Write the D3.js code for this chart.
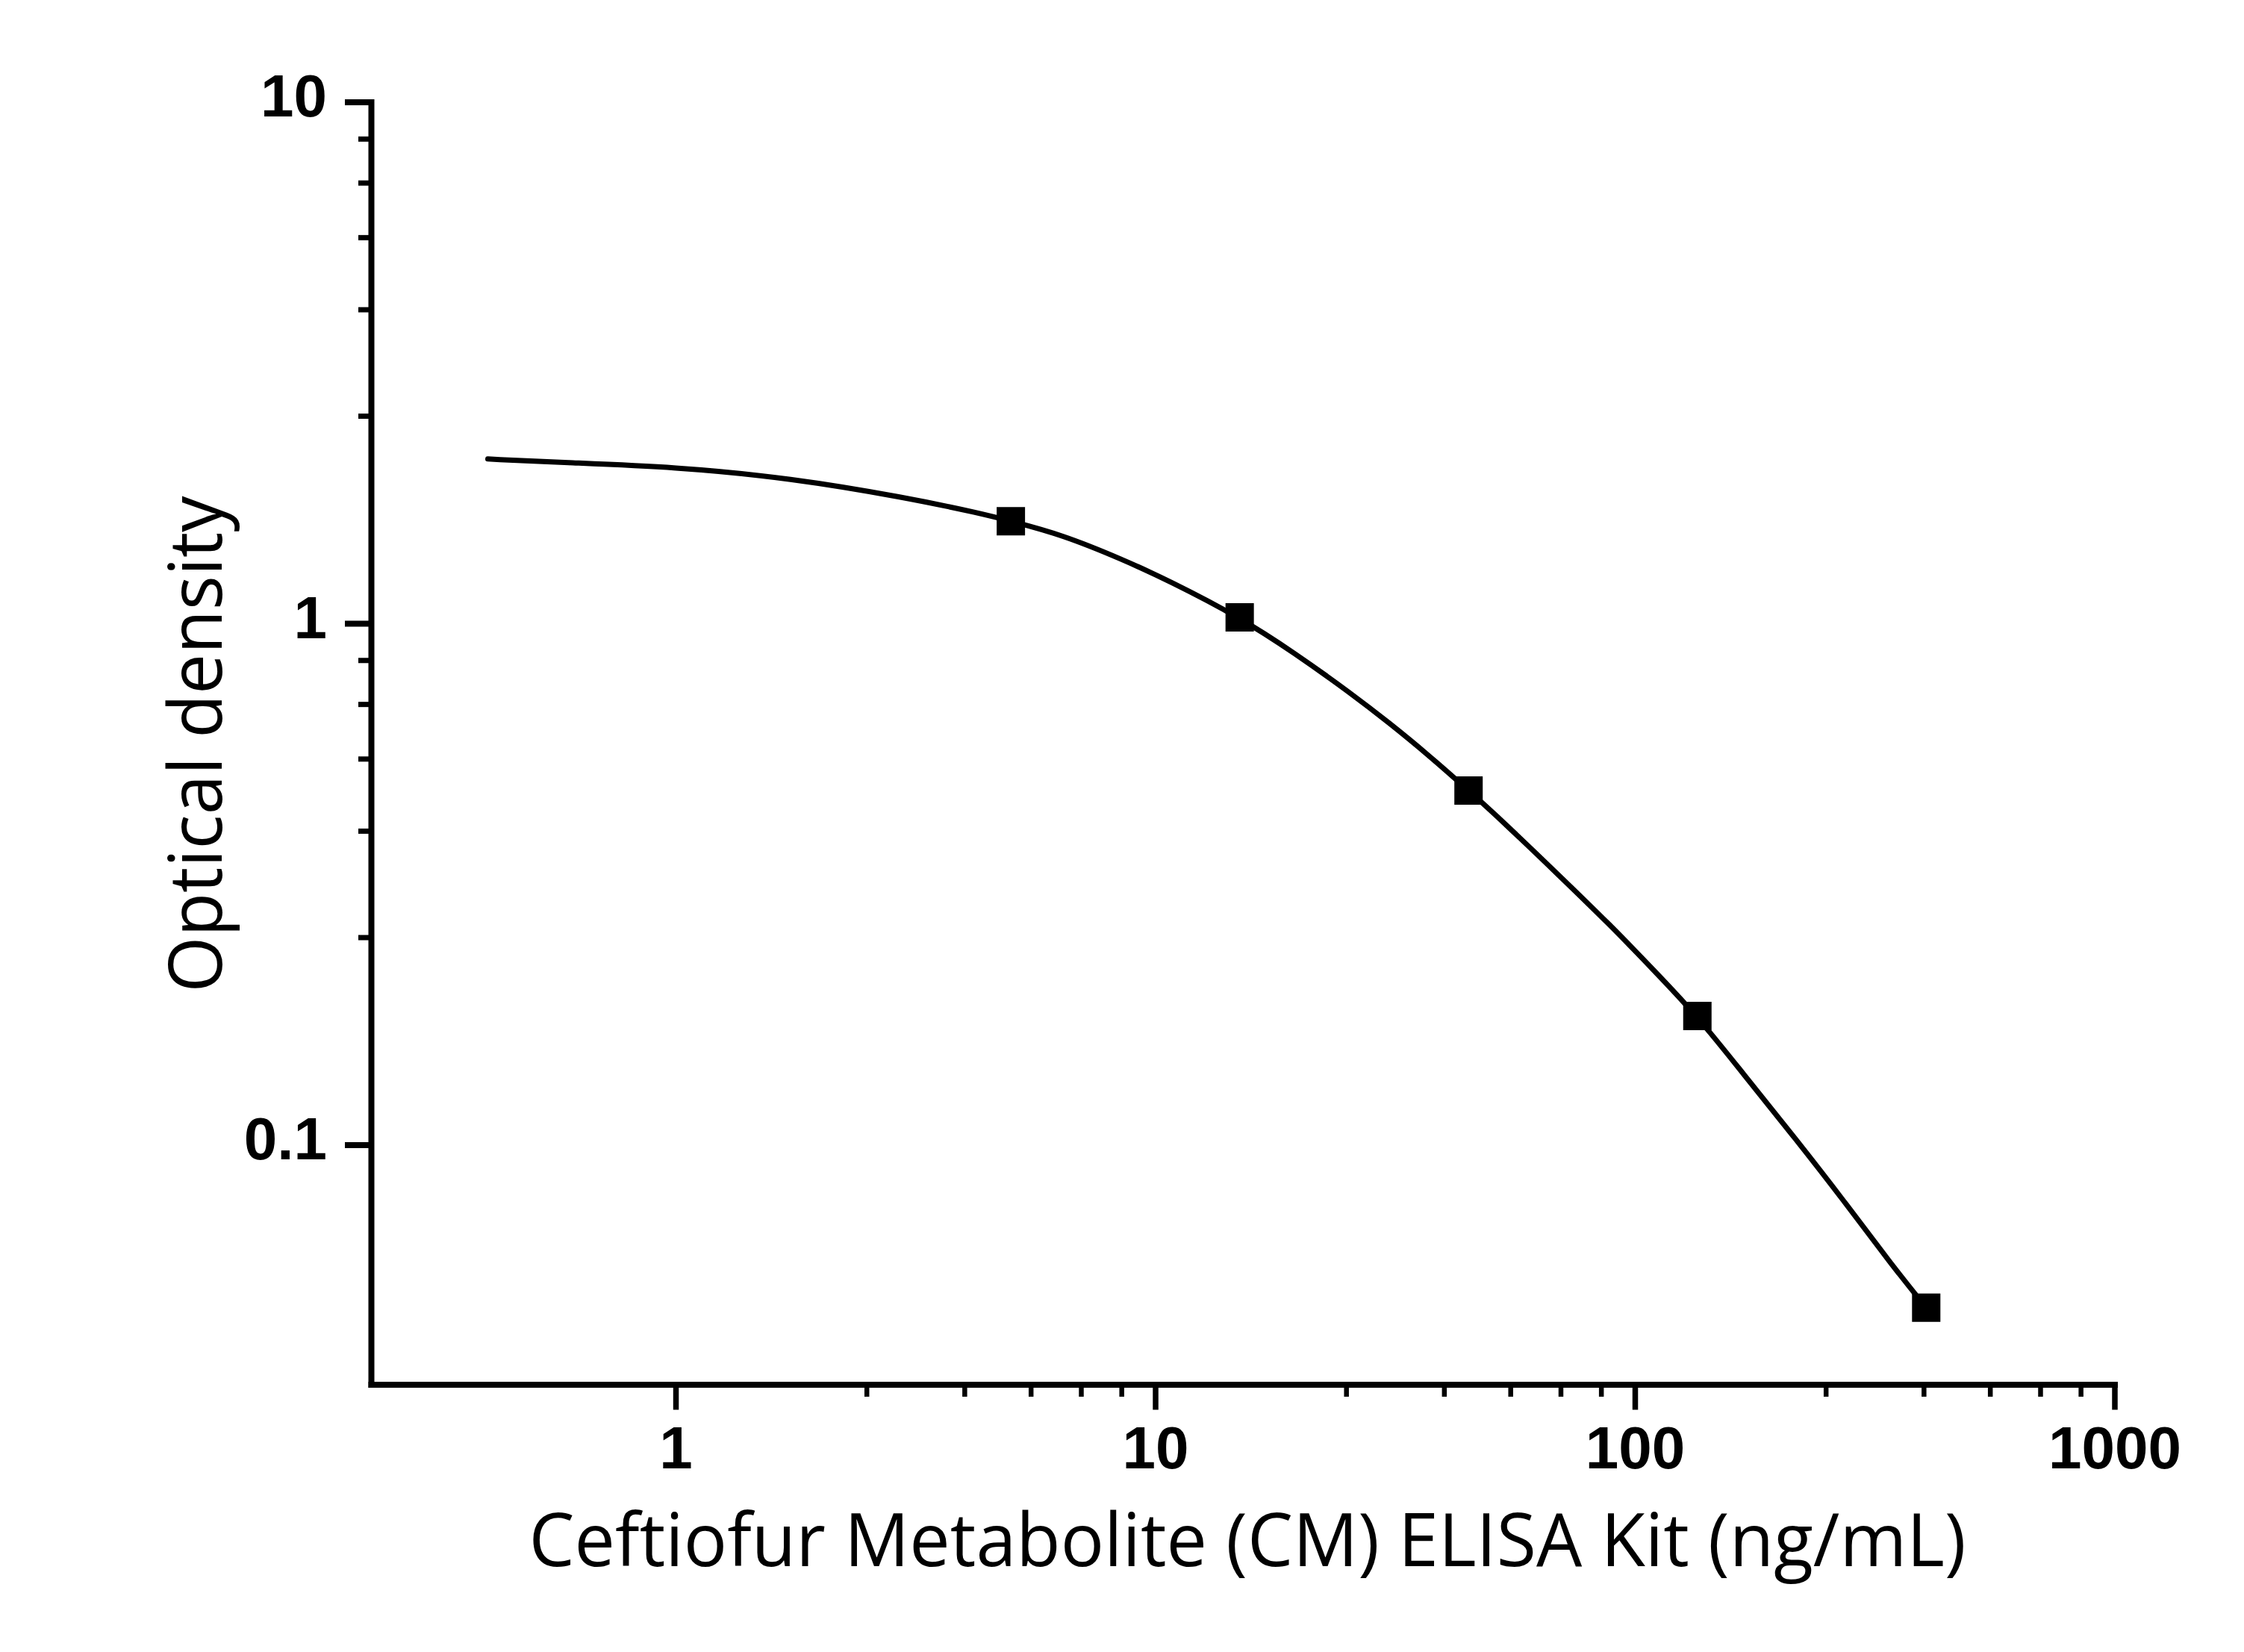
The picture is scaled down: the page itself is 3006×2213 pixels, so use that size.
<!DOCTYPE html>
<html>
<head>
<meta charset="utf-8">
<script src="https://cdn.jsdelivr.net/npm/d3@7"></script>
<style>
  html, body { margin: 0; padding: 0; background: #ffffff; }
  svg { display: block; }
</style>
</head>
<body>
<svg id="chart" width="3006" height="2213"></svg>
<script>
// ---- data ----
const concentrations = [5, 15, 45, 135, 405];              // ng/mL
const opticalDensity = [1.570, 1.027, 0.478, 0.1765, 0.0487];

// fitted standard curve
const fitX = [0.406, 0.580, 1.0, 1.737, 3.005, 4.331, 5.0, 6.387, 8.556, 10.66, 15,
              19.49, 25.62, 30.76, 36.93, 45, 53.1, 69.7, 88.6, 109.1, 135,
              168.0, 213.6, 271.6, 345.2, 405];
const fitY = [2.066, 2.034, 1.995, 1.899, 1.744, 1.6245, 1.570, 1.479, 1.3255, 1.208, 1.027,
              0.878, 0.7336, 0.644, 0.5613, 0.478, 0.4165, 0.3276, 0.2645, 0.2169, 0.1765,
              0.1370, 0.1042, 0.0785, 0.0584, 0.0487];

const xMajorTicks = [1, 10, 100, 1000];
const xTickLabels = ["1", "10", "100", "1000"];
const yMajorTicks = [0.1, 1, 10];
const yTickLabels = ["0.1", "1", "10"];
const minorSteps = [2.5, 4, 5.5, 7, 8.5];   // minor ticks inside each decade

const xDomain = [0.2317, 1000];
const yDomain = [0.0347, 10];

const xTitle = "Ceftiofur Metabolite (CM) ELISA Kit (ng/mL)";
const yTitle = "Optical density";

// ---- layout ----
const svg = d3.select("#chart");
svg.append("rect").attr("width", 3006).attr("height", 2213).attr("fill", "#ffffff");

const x = d3.scaleLog().domain(xDomain).range([497, 2832.5]);
const y = d3.scaleLog().domain(yDomain).range([1854.5, 136.5]);

const xOrigin = 1854.5;  // y pixel of x axis
const yOrigin = 497;     // x pixel of y axis

function minorsFor(majors) {
  const out = [];
  for (let i = 0; i < majors.length - 1; i++) {
    minorSteps.forEach(s => out.push(majors[i] * s));
  }
  return out;
}
const xMinor = minorsFor(xMajorTicks);
const yMinor = minorsFor(yMajorTicks);

const tickFont = "'Liberation Sans', Arial, Helvetica, sans-serif";
const titleFont = "'Segoe UI', 'Open Sans', 'Noto Sans', sans-serif";

// minor ticks
svg.append("g")
  .attr("transform", `translate(0,${xOrigin})`)
  .call(d3.axisBottom(x).tickValues(xMinor).tickSize(16.5).tickFormat(""))
  .call(g => g.select(".domain").remove())
  .call(g => g.selectAll("line").attr("stroke", "#000").attr("stroke-width", 6.5));

svg.append("g")
  .attr("transform", `translate(${yOrigin},0)`)
  .call(d3.axisLeft(y).tickValues(yMinor).tickSize(17).tickFormat(""))
  .call(g => g.select(".domain").remove())
  .call(g => g.selectAll("line").attr("stroke", "#000").attr("stroke-width", 7));

// major x axis
const gx = svg.append("g")
  .attr("transform", `translate(0,${xOrigin})`)
  .call(d3.axisBottom(x).tickValues(xMajorTicks).tickSize(34).tickSizeOuter(0).tickPadding(22)
        .tickFormat((d, i) => xTickLabels[i]));
gx.attr("font-family", tickFont).attr("font-size", 80).attr("font-weight", "bold");
gx.select(".domain").attr("stroke", "#000").attr("stroke-width", 8).attr("stroke-linecap", "square");
gx.selectAll(".tick line").attr("stroke", "#000").attr("stroke-width", 7.5);
gx.selectAll(".tick text").attr("fill", "#000");

// major y axis
const gy = svg.append("g")
  .attr("transform", `translate(${yOrigin},0)`)
  .call(d3.axisLeft(y).tickValues(yMajorTicks).tickSize(35).tickSizeOuter(0).tickPadding(24)
        .tickFormat((d, i) => yTickLabels[i]));
gy.attr("font-family", tickFont).attr("font-size", 80).attr("font-weight", "bold");
gy.select(".domain").attr("stroke", "#000").attr("stroke-width", 8).attr("stroke-linecap", "square");
gy.selectAll(".tick line").attr("stroke", "#000").attr("stroke-width", 8);
gy.selectAll(".tick text").attr("fill", "#000").attr("dy", "0.24em");

// fitted curve
const curveData = fitX.map((v, i) => [v, fitY[i]]);
svg.append("path")
  .datum(curveData)
  .attr("fill", "none")
  .attr("stroke", "#000")
  .attr("stroke-width", 7)
  .attr("stroke-linecap", "round")
  .attr("stroke-linejoin", "round")
  .attr("d", d3.line().x(d => x(d[0])).y(d => y(d[1])).curve(d3.curveBasis));

// data markers
const pts = concentrations.map((v, i) => [v, opticalDensity[i]]);
svg.append("g").selectAll("path")
  .data(pts)
  .join("path")
  .attr("transform", d => `translate(${x(d[0])},${y(d[1])})`)
  .attr("d", d3.symbol(d3.symbolSquare, 38 * 38))
  .attr("fill", "#000");

// axis titles
const xt = svg.append("text")
  .attr("x", 1671).attr("y", 2098)
  .attr("text-anchor", "middle")
  .attr("font-family", titleFont)
  .attr("font-size", 99)
  .attr("fill", "#000")
  .text(xTitle);
const xtLen = xt.node().getComputedTextLength();
if (Math.abs(xtLen - 1925) > 10) xt.attr("textLength", 1925).attr("lengthAdjust", "spacingAndGlyphs");

const yt = svg.append("text")
  .attr("transform", "translate(297,997) rotate(-90)")
  .attr("text-anchor", "middle")
  .attr("font-family", titleFont)
  .attr("font-size", 99)
  .attr("fill", "#000")
  .text(yTitle);
const ytLen = yt.node().getComputedTextLength();
if (Math.abs(ytLen - 665) > 10) yt.attr("textLength", 665).attr("lengthAdjust", "spacingAndGlyphs");
</script>
</body>
</html>
